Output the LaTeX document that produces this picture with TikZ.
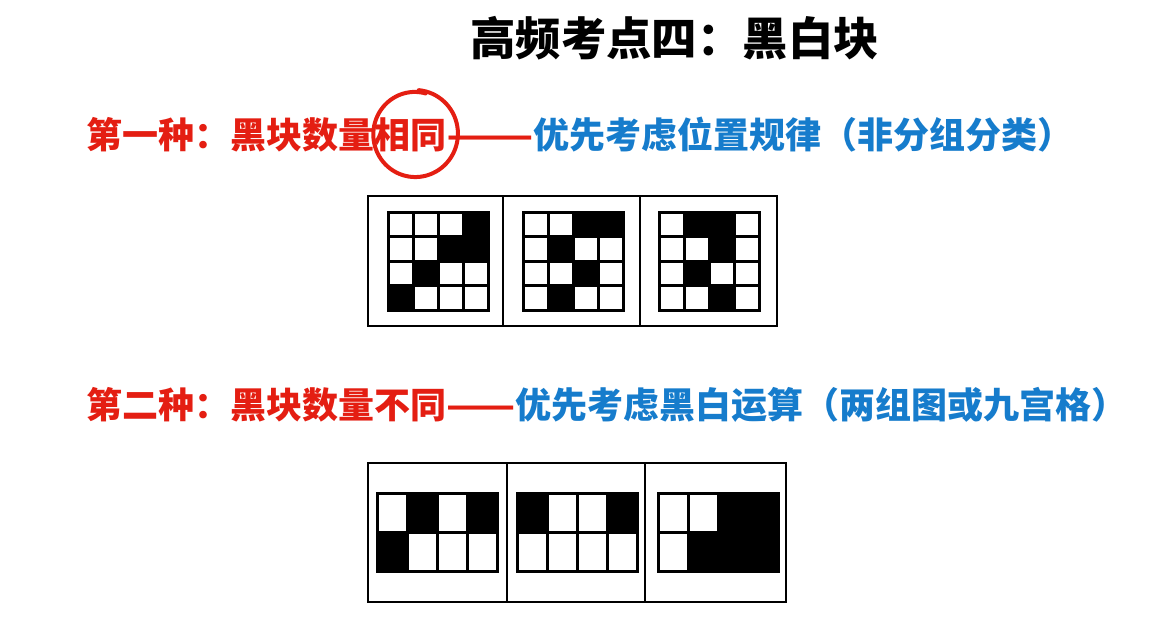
\documentclass[tikz,border=0pt]{standalone}
\usepackage{fontspec}
\setmainfont{Noto Sans CJK SC}
\definecolor{myred}{RGB}{228,30,18}
\definecolor{myblue}{RGB}{22,124,204}
\newcommand\bwgrid[7]{%
  \fill[black] (#1-1.5,#2-1.5) rectangle (#1+#3*#5+1.5,#2+#4*#6+1.5);
  \foreach \v [count=\i from 0] in {#7}{%
    \pgfmathtruncatemacro\cc{mod(\i,#3)}%
    \pgfmathtruncatemacro\rr{div(\i,#3)}%
    \ifnum\v=0
      \fill[white] (#1+\cc*#5+1.5,#2+\rr*#6+1.5) rectangle (#1+\cc*#5+#5-1.5,#2+\rr*#6+#6-1.5);
    \fi
  }%
}
\begin{document}
\begin{tikzpicture}[x=1pt,y=-1pt,
  frame/.style={draw=black,line width=2.2pt},
  txt/.style={anchor=west,inner sep=0pt,font=\bfseries}]
\useasboundingbox[fill=white] (0,0) rectangle (1167,627);
% title
\node[txt,font=\bfseries\fontsize{45.4}{50}\selectfont] (title) at (470,38) {高频考点四：黑白块};
% line 1
\node[txt,font=\bfseries\fontsize{36}{40}\selectfont] (l1) at (86,135)
  {{\color{myred}第一种：黑块数量相同\scalebox{1.42}[1]{——}}{\color{myblue}优先考虑位置规律（非分组分类）}};
\draw[myred,line width=4pt,line cap=round]
  plot[domain=75:445,samples=80,smooth] ({415+(41+2.5*(\x-75)/370)*cos(\x)},{134-(42+2*(\x-75)/370)*sin(\x)});
% line 2
\node[txt,font=\bfseries\fontsize{36}{40}\selectfont] (l2) at (86,405)
  {{\color{myred}第二种：黑块数量不同\scalebox{1.12}[1]{——}}{\color{myblue}优先考虑黑白运算（两组图或九宫格）}};
% top frames
\draw[frame] (368,196) rectangle (777,326);
\draw[frame] (503,196) -- (503,326);
\draw[frame] (640,196) -- (640,326);
\bwgrid{388}{212}{4}{4}{25}{24.5}{0,0,0,1, 0,0,1,1, 0,1,0,0, 1,0,0,0}
\bwgrid{523}{212}{4}{4}{25}{24.5}{0,0,1,1, 0,1,0,0, 0,0,1,0, 0,1,0,0}
\bwgrid{659}{212}{4}{4}{25}{24.5}{0,1,1,0, 0,0,1,0, 0,1,0,0, 0,0,1,0}
% bottom frames
\draw[frame] (368,463) rectangle (786,602);
\draw[frame] (507,463) -- (507,602);
\draw[frame] (645,463) -- (645,602);
\bwgrid{377}{493}{4}{2}{30}{39}{0,1,0,1, 1,0,0,0}
\bwgrid{517}{493}{4}{2}{30}{39}{1,0,0,1, 0,0,0,0}
\bwgrid{658}{493}{4}{2}{30}{39}{0,0,1,1, 0,1,1,1}
\end{tikzpicture}
\end{document}
